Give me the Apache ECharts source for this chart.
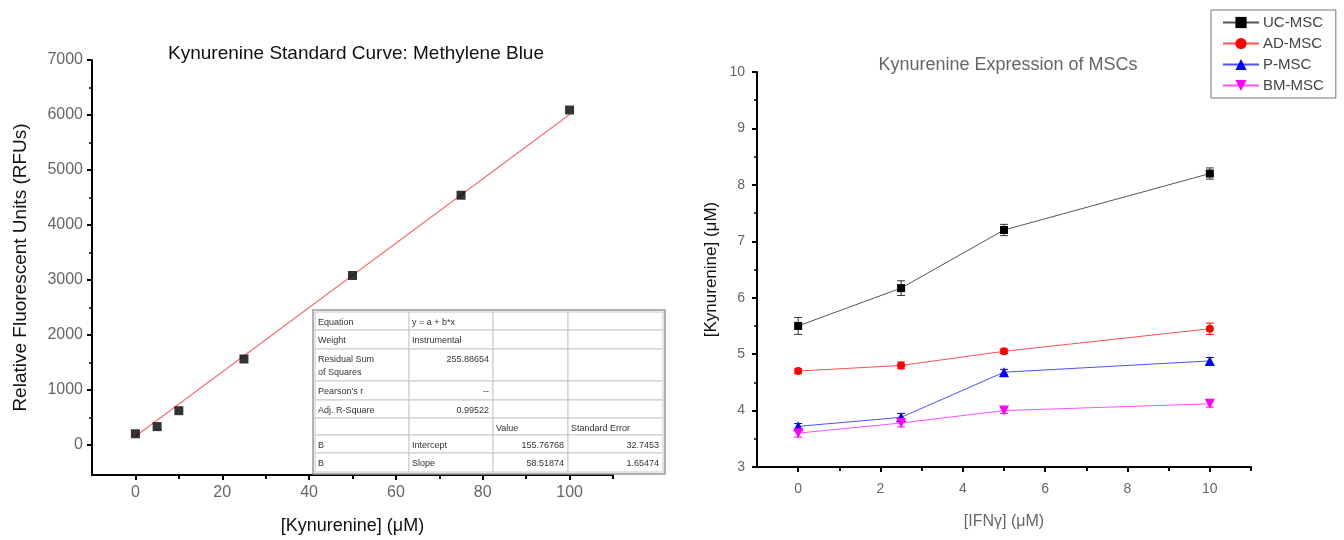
<!DOCTYPE html>
<html><head><meta charset="utf-8">
<script src="https://cdn.jsdelivr.net/npm/echarts@6/dist/echarts.min.js"></script>
<style>html,body{margin:0;padding:0;background:#fff}#c{width:1344px;height:540px}</style>
</head><body><div id="c"></div>
<script>
// ---- Left chart data ----
const kynConc = [0, 5, 10, 25, 50, 75, 100];
const rfu = [200, 330, 620, 1560, 3080, 4540, 6090];
const fitX = [0, 100];
const fitY = [156, 6008];
const leftYLabels = [0, 1000, 2000, 3000, 4000, 5000, 6000, 7000];
const leftYMinor = [500, 1500, 2500, 3500, 4500, 5500, 6500];
const leftXLabels = [0, 20, 40, 60, 80, 100];
const leftXMinor = [10, 30, 50, 70, 90, 110];
const tableRows = [
  ['Equation', 'y = a + b*x', '', ''],
  ['Weight', 'Instrumental', '', ''],
  ['Residual Sum\nof Squares', '255.88654', '', ''],
  ["Pearson's r", '--', '', ''],
  ['Adj. R-Square', '0.99522', '', ''],
  ['', '', 'Value', 'Standard Error'],
  ['B', 'Intercept', '155.76768', '32.7453'],
  ['B', 'Slope', '58.51874', '1.65474']
];

// ---- Right chart data ----
const ifn = [0, 2.5, 5, 10];
const seriesNames = ['UC-MSC', 'AD-MSC', 'P-MSC', 'BM-MSC'];
const ucMsc = [5.5, 6.17, 7.2, 8.2];
const ucErr = [0.15, 0.13, 0.1, 0.1];
const adMsc = [4.7, 4.8, 5.05, 5.45];
const adErr = [0.04, 0.06, 0.04, 0.1];
const pMsc = [3.72, 3.88, 4.68, 4.88];
const pErr = [0.05, 0.07, 0.05, 0.06];
const bmMsc = [3.6, 3.78, 4.0, 4.12];
const bmErr = [0.07, 0.07, 0.05, 0.06];
const rightXLabels = [0, 2, 4, 6, 8, 10];
const rightXMinor = [1, 3, 5, 7, 9, 11];

const FONT = 'Liberation Sans, Arial, sans-serif';
const chart = echarts.init(document.getElementById('c'));

// table graphic
const colX = [315, 409, 493, 568, 663];
const rowY = [312, 330, 349, 381, 400, 418, 435, 453, 472];
const tableEls = [];
tableEls.push({type:'rect', shape:{x:colX[0]-2, y:rowY[0]-2, width:colX[4]-colX[0]+4, height:rowY[8]-rowY[0]+4}, style:{fill:'#fff', stroke:'#999', lineWidth:1.5}, z:10});
for (let r = 0; r < tableRows.length; r++) {
  for (let c = 0; c < 4; c++) {
    const x0 = colX[c], x1 = colX[c+1], y0 = rowY[r], y1 = rowY[r+1];
    tableEls.push({type:'rect', shape:{x:x0, y:y0, width:x1-x0, height:y1-y0}, style:{fill:'#fff', stroke:'#c8c8c8', lineWidth:1}, z:11});
    const t = tableRows[r][c];
    if (!t) continue;
    const isNum = /^[\d.\-]+$/.test(t);
    tableEls.push({type:'text', x: isNum ? x1-4 : x0+3, y: y0+4, style:{text:t, fill:'#333', font:'9px ' + FONT, textAlign: isNum ? 'right' : 'left', textVerticalAlign:'top', lineHeight:13}, z:12});
  }
}

function errSeries(vals, errs, color) {
  return {
    type:'custom', xAxisIndex:2, yAxisIndex:2, z:3, silent:true,
    data: ifn.map((x,i) => [x, vals[i]-errs[i], vals[i]+errs[i]]),
    encode:{x:0, y:[1,2]},
    renderItem(params, api) {
      const x = api.value(0);
      const lo = api.coord([x, api.value(1)]);
      const hi = api.coord([x, api.value(2)]);
      const w = 4;
      const st = {stroke: color, lineWidth: 1};
      return {type:'group', children:[
        {type:'line', shape:{x1:lo[0], y1:lo[1], x2:hi[0], y2:hi[1]}, style:st},
        {type:'line', shape:{x1:lo[0]-w, y1:lo[1], x2:lo[0]+w, y2:lo[1]}, style:st},
        {type:'line', shape:{x1:hi[0]-w, y1:hi[1], x2:hi[0]+w, y2:hi[1]}, style:st}
      ]};
    }
  };
}

function lineSeries(name, vals, lineColor, color, symbol, size, rot) {
  return {
    name, type:'line', xAxisIndex:2, yAxisIndex:2, z:5,
    data: ifn.map((x,i) => [x, vals[i]]),
    symbol, symbolSize:size, symbolRotate: rot || 0,
    lineStyle:{color: lineColor, width:1},
    itemStyle:{color: color},
    emphasis:{disabled:true}
  };
}

const axisLineStyle = {show:true, onZero:false, lineStyle:{color:'#000', width:2}};
const plain = v => String(v);
const labelStyle = {color:'#666', fontFamily:FONT, formatter: plain};

const option = {
  animation:false,
  backgroundColor:'#fff',
  title:[
    {text:'Kynurenine Standard Curve: Methylene Blue', left:351, top:39, textAlign:'center',
     textStyle:{fontFamily:FONT, fontSize:19, fontWeight:'normal', color:'#111'}},
    {text:'Kynurenine Expression of MSCs', left:1003, top:51, textAlign:'center',
     textStyle:{fontFamily:FONT, fontSize:18, fontWeight:'normal', color:'#666'}}
  ],
  legend:{
    data:seriesNames, orient:'vertical', left:1211, top:10, width:127,
    padding:[5,12,5,11], itemGap:6, itemWidth:36, itemHeight:14,
    borderColor:'#777', borderWidth:1,
    textStyle:{fontFamily:FONT, fontSize:15, color:'#444', padding:[0,0,0,-1]},
    selectedMode:false
  },
  grid:[
    {left:92, top:60, width:521, height:421},
    {left:757, top:72, width:494, height:395}
  ],
  xAxis:[
    {type:'value', gridIndex:0, min:-10, max:110,
     name:'[Kynurenine] (\u03bcM)', nameLocation:'middle', nameGap:42,
     nameTextStyle:{fontFamily:FONT, fontSize:18, color:'#111'},
     axisLine:axisLineStyle, splitLine:{show:false},
     axisTick:{show:true, customValues:leftXLabels, length:5, lineStyle:{color:'#000', width:2}},
     axisLabel:{customValues:leftXLabels, fontSize:16, margin:10, ...labelStyle}},
    {type:'value', gridIndex:0, min:-10, max:110, position:'bottom',
     axisLine:{show:false, onZero:false}, splitLine:{show:false}, axisLabel:{show:false},
     axisTick:{show:true, customValues:leftXMinor, length:4, lineStyle:{color:'#000', width:2}}},
    {type:'value', gridIndex:1, min:-1, max:11,
     name:'[IFN\u03b3] (\u03bcM)', nameLocation:'middle', nameGap:47,
     nameTextStyle:{fontFamily:FONT, fontSize:16, color:'#666'},
     axisLine:axisLineStyle, splitLine:{show:false},
     axisTick:{show:true, customValues:rightXLabels, length:5, lineStyle:{color:'#000', width:2}},
     axisLabel:{customValues:rightXLabels, fontSize:14, margin:15, ...labelStyle}},
    {type:'value', gridIndex:1, min:-1, max:11, position:'bottom',
     axisLine:{show:false, onZero:false}, splitLine:{show:false}, axisLabel:{show:false},
     axisTick:{show:true, customValues:rightXMinor, length:4, lineStyle:{color:'#000', width:2}}}
  ],
  yAxis:[
    {type:'value', gridIndex:0, min:-550, max:7000, position:'left',
     name:'Relative Fluorescent Units (RFUs)', nameLocation:'middle', nameGap:62,
     nameTextStyle:{fontFamily:FONT, fontSize:19, color:'#111'},
     axisLine:axisLineStyle, splitLine:{show:false},
     axisTick:{show:true, customValues:leftYLabels, length:5, lineStyle:{color:'#000', width:2}},
     axisLabel:{customValues:leftYLabels, fontSize:16, margin:9, ...labelStyle}},
    {type:'value', gridIndex:0, min:-550, max:7000, position:'left',
     axisLine:{show:false, onZero:false}, splitLine:{show:false}, axisLabel:{show:false},
     axisTick:{show:true, customValues:leftYMinor, length:3, lineStyle:{color:'#000', width:1.5}}},
    {type:'value', gridIndex:1, min:3, max:10, interval:1, position:'left',
     name:'[Kynurenine] (\u03bcM)', nameLocation:'middle', nameGap:37,
     nameTextStyle:{fontFamily:FONT, fontSize:17, color:'#111'},
     axisLine:axisLineStyle, splitLine:{show:false},
     axisTick:{show:true, length:5, lineStyle:{color:'#000', width:2}},
     minorTick:{show:true, splitNumber:2, length:3, lineStyle:{color:'#000', width:1.5}},
     axisLabel:{fontSize:14, margin:12, ...labelStyle}}
  ],
  series:[
    {type:'line', name:'fit', xAxisIndex:0, yAxisIndex:0, z:2,
     data: fitX.map((x,i) => [x, fitY[i]]), symbol:'none',
     lineStyle:{color:'#f07070', width:1.2}},
    {type:'scatter', name:'std', xAxisIndex:0, yAxisIndex:0, z:4,
     data: kynConc.map((x,i) => [x, rfu[i]]), symbol:'rect', symbolSize:9,
     itemStyle:{color:'#000'}},
    errSeries(ucMsc, ucErr, '#333'),
    errSeries(adMsc, adErr, '#f00'),
    errSeries(pMsc, pErr, '#00f'),
    errSeries(bmMsc, bmErr, '#f0f'),
    lineSeries('UC-MSC', ucMsc, '#555', '#000', 'rect', 8),
    lineSeries('AD-MSC', adMsc, '#ff5050', '#f00', 'circle', 8),
    lineSeries('P-MSC', pMsc, '#5050ff', '#00f', 'triangle', 10),
    lineSeries('BM-MSC', bmMsc, '#ff50ff', '#f0f', 'triangle', 10, 180)
  ],
  graphic: tableEls
};
chart.setOption(option);
</script></body></html>
